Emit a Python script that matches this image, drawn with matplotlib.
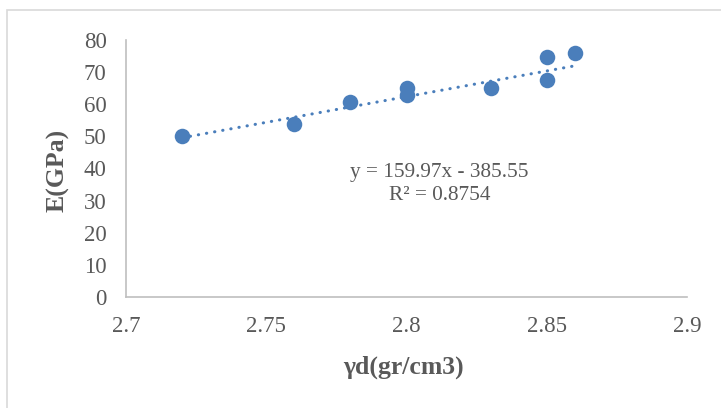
import matplotlib
matplotlib.use("Agg")
import matplotlib.pyplot as plt
from matplotlib.patches import Rectangle
import numpy as np

plt.rcParams.update({"font.family": "Liberation Serif"})

density = [2.72, 2.76, 2.78, 2.80, 2.80, 2.83, 2.85, 2.85, 2.86]
modulus = [50.0, 54.0, 60.8, 65.2, 63.0, 65.2, 74.8, 67.5, 75.8]
slope, intercept = 159.97, -385.55

BLUE = "#4A7EBB"
GRAY = "#595959"
AXIS = "#BFBFBF"

fig = plt.figure(figsize=(7.21, 4.08), dpi=100)
ax = fig.add_axes([126 / 721, 1 - 297 / 408, 561 / 721, 257 / 408])

# chart area border (clipped by image edges on right/bottom)
fig.patches.append(Rectangle((7 / 721, -0.1), 1.0, 1.1 - 10 / 408, transform=fig.transFigure,
                             fill=False, edgecolor="#D9D9D9", lw=1.2))

xt = np.linspace(min(density), max(density), 50)
ax.plot(xt, slope * xt + intercept, color=BLUE, lw=2.2, linestyle=(0, (0.1, 2.6)),
        dash_capstyle="round", zorder=2)
ax.scatter(density, modulus, s=125, color=BLUE, zorder=3, linewidths=0)

ax.set_xlim(2.7, 2.9)
ax.set_ylim(0, 80)
ax.set_xticks([2.7, 2.75, 2.8, 2.85, 2.9])
ax.set_xticklabels(["2.7", "2.75", "2.8", "2.85", "2.9"])
ax.set_yticks(range(0, 81, 10))
ax.tick_params(length=0, labelsize=16.5, colors=GRAY)
ax.tick_params(axis="y", pad=14)
ax.tick_params(axis="x", pad=14)
for s in ("top", "right"):
    ax.spines[s].set_visible(False)
for s in ("left", "bottom"):
    ax.spines[s].set_color(AXIS)
    ax.spines[s].set_linewidth(1.2)

ax.text(0.495, -0.272, "γd(gr/cm3)", transform=ax.transAxes, ha="center", va="center",
        fontsize=18.5, fontweight="bold", color=GRAY)
ax.text(-0.121, 0.494, "E(GPa)", transform=ax.transAxes, ha="center", va="center",
        rotation=90, fontsize=18.5, fontweight="bold", color=GRAY)

ax.text(2.8117, 35.2, "y = 159.97x - 385.55\nR² = 0.8754", ha="center", va="center",
        fontsize=15.3, color=GRAY, linespacing=1.3)

fig.savefig("out.png", dpi=100)
